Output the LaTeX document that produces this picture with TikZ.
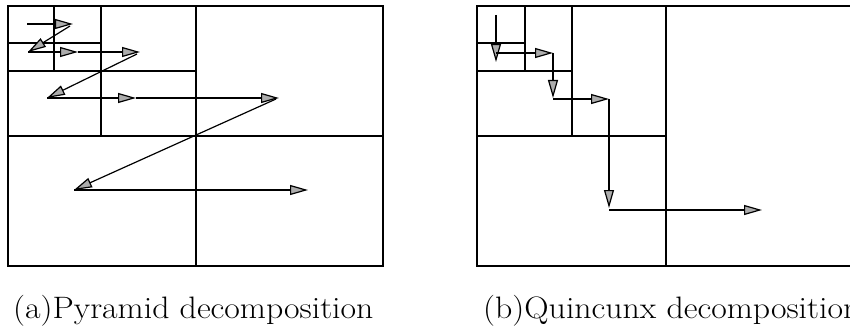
\documentclass[tikz,border=0pt]{standalone}
\usetikzlibrary{arrows.meta}
\begin{document}
\begin{tikzpicture}[x=1pt,y=-1pt,
  grid/.style={line width=1.2pt, black},
  flow/.style={line width=1.2pt, black, -{Triangle[length=18pt,width=10pt,fill=gray!65]}},
  captext/.style={anchor=base west, inner sep=0pt, xscale=1.09, font=\fontsize{31}{37}\selectfont}]
\useasboundingbox (0,0) rectangle (850,331);
% ---------- (a) Pyramid ----------
\draw[grid] (8,6) rectangle (383,266);
\draw[grid] (196,6) -- (196,266);
\draw[grid] (8,136) -- (383,136);
\draw[grid] (101,6) -- (101,136);
\draw[grid] (8,71) -- (196,71);
\draw[grid] (54,6) -- (54,71);
\draw[grid] (8,43) -- (101,43);
\coordinate (p1) at (27,24);
\coordinate (p2) at (73,24);
\coordinate (p2s) at (70,26);
\coordinate (p3) at (28,52);
\coordinate (p4) at (78,52);
\coordinate (p5) at (140,52);
\coordinate (p5s) at (137,54);
\coordinate (p6) at (47,98);
\coordinate (p7) at (136,98);
\coordinate (p8) at (279,98);
\coordinate (p8s) at (276,99);
\coordinate (p9) at (74,190);
\coordinate (p10) at (308,190);
\draw[flow] (p1) -- (p2);
\draw[flow] (p2s) -- (p3);
\draw[flow] (p3) -- (p4);
\draw[flow] (p4) -- (p5);
\draw[flow] (p5s) -- (p6);
\draw[flow] (p6) -- (p7);
\draw[flow] (p7) -- (p8);
\draw[flow] (p8s) -- (p9);
\draw[flow] (p9) -- (p10);
% ---------- (b) Quincunx ----------
\draw[grid] (851,6) -- (477,6) -- (477,266) -- (851,266);
\draw[grid] (666,6) -- (666,266);
\draw[grid] (477,136) -- (666,136);
\draw[grid] (572,6) -- (572,136);
\draw[grid] (477,71) -- (572,71);
\draw[grid] (525,6) -- (525,71);
\draw[grid] (477,43) -- (525,43);
\coordinate (q1) at (496,15);
\coordinate (q2) at (496,62);
\coordinate (q3) at (496,53);
\coordinate (q4) at (553,53);
\coordinate (q5) at (553,98);
\coordinate (q5s) at (553,99);
\coordinate (q6) at (609,99);
\coordinate (q7) at (609,208);
\coordinate (q7s) at (609,210);
\coordinate (q8) at (762,210);
\draw[flow] (q1) -- (q2);
\draw[flow] (q3) -- (q4);
\draw[flow] (q4) -- (q5);
\draw[flow] (q5s) -- (q6);
\draw[flow] (q6) -- (q7);
\draw[flow] (q7s) -- (q8);
% ---------- captions ----------
\node[captext] (capa) at (13,318) {(a)Pyramid decomposition};
\node[captext] (capb) at (483,318) {(b)Quincunx decomposition};
\end{tikzpicture}
\end{document}
